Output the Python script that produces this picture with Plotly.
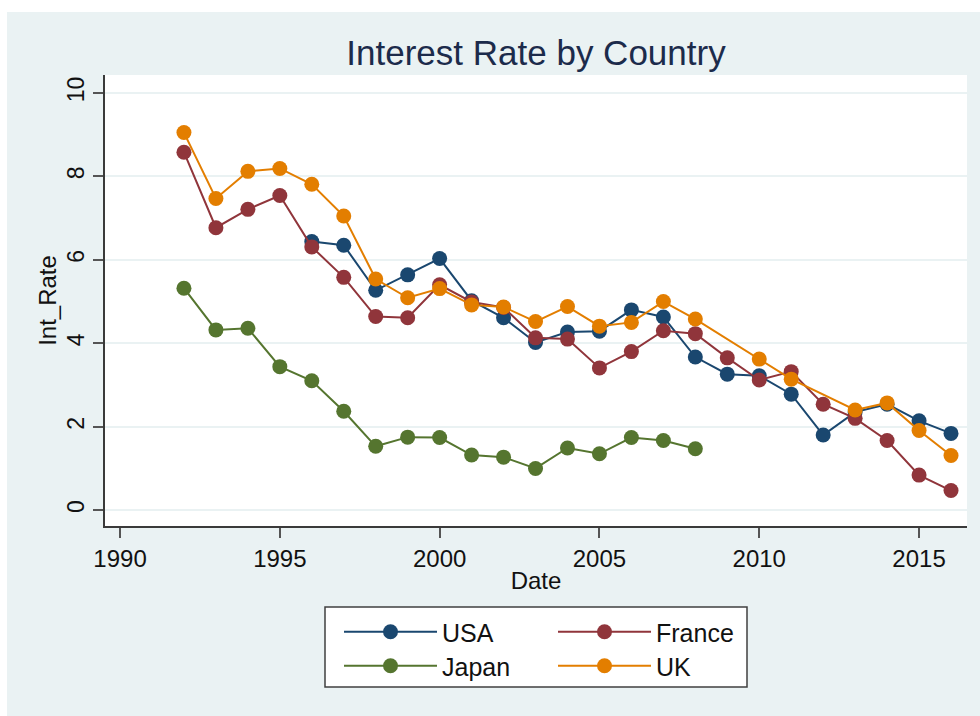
import plotly.graph_objects as go

# ---- data ----
usa_years = list(range(1996, 2017))
usa_rate = [6.44, 6.35, 5.27, 5.64, 6.03, 5.02, 4.61, 4.02, 4.27, 4.29, 4.80,
            4.63, 3.67, 3.26, 3.22, 2.78, 1.80, 2.35, 2.54, 2.14, 1.84]

france_years = list(range(1992, 2017))
france_rate = [8.58, 6.77, 7.21, 7.54, 6.31, 5.58, 4.64, 4.61, 5.40, 4.99, 4.86,
               4.13, 4.10, 3.41, 3.80, 4.30, 4.23, 3.65, 3.12, 3.32, 2.54, 2.20,
               1.67, 0.84, 0.47]

japan_years = list(range(1992, 2009))
japan_rate = [5.32, 4.32, 4.36, 3.44, 3.10, 2.37, 1.53, 1.75, 1.74, 1.32, 1.27,
              1.00, 1.49, 1.35, 1.74, 1.67, 1.47]

uk_years = list(range(1992, 2009)) + [2010, 2011, 2013, 2014, 2015, 2016]
uk_rate = [9.05, 7.47, 8.12, 8.19, 7.81, 7.05, 5.54, 5.09, 5.31, 4.92, 4.87,
           4.52, 4.88, 4.41, 4.50, 5.00, 4.58, 3.62, 3.14, 2.40, 2.57, 1.91, 1.31]

x_ticks = [1990, 1995, 2000, 2005, 2010, 2015]
y_ticks = [0, 2, 4, 6, 8, 10]

# ---- style ----
FONT = "Arial, Liberation Sans, sans-serif"
BG = "#EAF2F3"
AX = "#3a3a3a"
colors = {"USA": "#1A476F", "France": "#90353B", "Japan": "#55752F", "UK": "#E37E00"}

series = [
    ("USA", usa_years, usa_rate, "legend"),
    ("France", france_years, france_rate, "legend"),
    ("Japan", japan_years, japan_rate, "legend2"),
    ("UK", uk_years, uk_rate, "legend2"),
]

fig = go.Figure()
for name, xs, ys, lg in series:
    fig.add_trace(go.Scatter(
        x=xs, y=ys, name=name, mode="lines+markers",
        line=dict(color=colors[name], width=2),
        marker=dict(color=colors[name], size=15, line=dict(width=0)),
        legend=lg,
    ))

# plot area in pixels: x 105..967, y 75..526
L, R, T, B = 105, 967, 75, 526
W, H = 980, 716
pw, ph = R - L, B - T

def px(xpix):
    return (xpix - L) / pw

def py(ypix):
    return (B - ypix) / ph

shapes = [
    # white strips at page edges
    dict(type="rect", xref="paper", yref="paper", x0=px(-5), x1=px(W + 5),
         y0=py(12), y1=py(-5), fillcolor="white", line=dict(width=0), layer="above"),
    dict(type="rect", xref="paper", yref="paper", x0=px(-5), x1=px(7),
         y0=py(H + 5), y1=py(-5), fillcolor="white", line=dict(width=0), layer="above"),
    # legend box
    dict(type="rect", xref="paper", yref="paper", x0=px(325), x1=px(747),
         y0=py(687), y1=py(607), fillcolor="white",
         line=dict(color="#404040", width=1.5), layer="above"),
]

leg_common = dict(orientation="h", xanchor="left", yanchor="middle",
                  bgcolor="rgba(0,0,0,0)", borderwidth=0,
                  font=dict(family=FONT, size=25, color="#111111"),
                  entrywidth=106, itemwidth=93, tracegroupgap=0)

fig.update_layout(
    width=W, height=H,
    margin=dict(l=L, r=W - R, t=T, b=H - B),
    paper_bgcolor=BG, plot_bgcolor="white",
    title=dict(text="Interest Rate by Country", x=0.5 * (L + R) / W, xanchor="center",
               y=1 - 53 / H, yanchor="middle", yref="container",
               font=dict(family=FONT, size=35, color="#1C2B4B")),
    font=dict(family=FONT, color="#111111"),
    xaxis=dict(range=[1989.53, 2016.5], tickvals=x_ticks, ticks="outside", ticklen=10,
               tickwidth=1.5, tickcolor="#555555", showgrid=False, zeroline=False,
               showline=True, linecolor=AX, linewidth=1.5,
               tickfont=dict(family=FONT, size=24, color="#111111"),
               title=dict(text="Date", standoff=2, font=dict(family=FONT, size=24, color="#111111"))),
    yaxis=dict(range=[-0.38, 10.43], tickvals=y_ticks, ticks="outside", ticklen=10,
               tickwidth=1.5, tickcolor="#555555", showgrid=True, gridcolor=BG, gridwidth=2,
               zeroline=False, showline=True, linecolor=AX, linewidth=1.5, tickangle=-90,
               tickfont=dict(family=FONT, size=23, color="#111111"),
               title=dict(text="Int_Rate", standoff=0, font=dict(family=FONT, size=24, color="#111111"))),
    legend=dict(x=px(339), y=py(632), **leg_common),
    legend2=dict(x=px(339), y=py(666), **leg_common),
    shapes=shapes,
)

fig.write_html("out.html", config={"displayModeBar": False},
               post_script="document.body.style.margin='0px';")
